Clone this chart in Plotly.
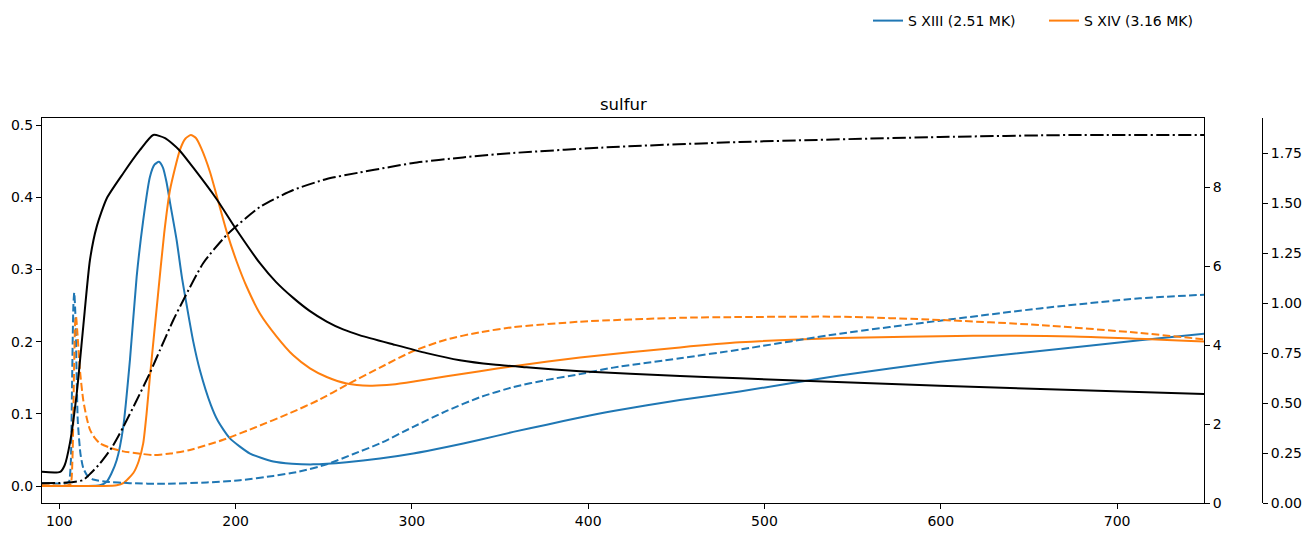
import plotly.graph_objects as go

# ---- data ----
xiii_x = [90, 100, 115, 123, 126.9, 129.5, 132.6, 136.3, 140.1, 143.9, 147.6, 151.4, 154, 156.5, 158.8,
          160.9, 163, 166.6, 169.5, 172.3, 176, 179.8, 186, 190, 196.8, 208.2, 221.4, 232, 244, 263, 281.9,
          300.8, 319.7, 338.6, 357.5, 376.5, 395.4, 414.2, 452, 486, 542.7, 599.5, 656.2, 712.9, 750]
xiii_y = [0.0, 0.0, 0.0, 0.001, 0.006, 0.017, 0.036, 0.082, 0.175, 0.29, 0.368, 0.428, 0.445, 0.449, 0.441,
          0.42, 0.39, 0.34, 0.29, 0.25, 0.20, 0.16, 0.112, 0.09, 0.066, 0.045, 0.034, 0.031, 0.030, 0.033, 0.038,
          0.045, 0.054, 0.064, 0.075, 0.085, 0.095, 0.104, 0.119, 0.131, 0.153, 0.172, 0.187, 0.202, 0.211]

xiv_x = [90, 100, 125, 132.6, 136.3, 142, 145, 147.6, 149.5, 151.4, 156, 159.5, 162.8, 168.5, 171.5, 174.6,
         177.5, 180.5, 185.5, 189.3, 195, 200.6, 206.3, 213.8, 223.3, 232.7, 242.2, 251.7, 263, 276, 289, 302,
         319.7, 338.6, 357.5, 395.4, 452.1, 486, 542.7, 618.4, 675.2, 750]
xiv_y = [0.0, 0.0, 0.0, 0.001, 0.004, 0.018, 0.034, 0.059, 0.10, 0.151, 0.265, 0.35, 0.41, 0.466, 0.481, 0.486,
         0.482, 0.468, 0.435, 0.402, 0.352, 0.311, 0.276, 0.239, 0.207, 0.181, 0.163, 0.151, 0.142, 0.139, 0.1405,
         0.145, 0.152, 0.159, 0.166, 0.178, 0.192, 0.199, 0.205, 0.208, 0.207, 0.200]

xiii_ne_x = [90, 104, 105.5, 106.5, 107.3, 108, 108.5, 109.1, 109.8, 110.5, 112, 113.6, 116, 119.3, 126.9,
             140, 160, 183.6, 202.5, 221.4, 236, 251.7, 266.5, 281.9, 300.8, 319.7, 338.6, 357.5, 376.5,
             395.4, 414.2, 452.1, 486, 542.7, 599.5, 656.2, 712.9, 750]
xiii_ne_y = [0.004, 0.004, 0.006, 0.03, 0.15, 0.25, 0.268, 0.24, 0.16, 0.09, 0.045, 0.025, 0.014, 0.009, 0.006,
             0.004, 0.003, 0.005, 0.008, 0.014, 0.020, 0.030, 0.044, 0.059, 0.082, 0.104, 0.123, 0.137,
             0.147, 0.155, 0.164, 0.177, 0.189, 0.211, 0.229, 0.246, 0.260, 0.265]

xiv_ne_x = [90, 105, 106.5, 107.5, 108.3, 109, 109.5, 110.2, 111.7, 113.6, 115.5, 117.4, 120, 123.1, 130,
            136.3, 145, 153.3, 163, 174.1, 193, 212, 230.9, 247, 263, 281.9, 300.8, 319.7, 338.6, 357.5,
            395.4, 452.1, 486, 542.7, 599.5, 656.2, 712.9, 750]
xiv_ne_y = [0.001, 0.001, 0.003, 0.04, 0.15, 0.225, 0.235, 0.215, 0.161, 0.119, 0.095, 0.078, 0.067, 0.059, 0.052,
            0.048, 0.045, 0.043, 0.045, 0.050, 0.064, 0.082, 0.101, 0.119, 0.140, 0.164, 0.187, 0.203, 0.213,
            0.220, 0.2276, 0.233, 0.234, 0.2345, 0.230, 0.223, 0.212, 0.203]

temp_x = [90, 100.5, 103, 106, 109.9, 113.6, 117.4, 121.2, 126.9, 136.3, 145.8, 153.3, 160, 168, 176, 189.3,
          200.6, 213.8, 223, 232.7, 242, 251.7, 261, 270.6, 289.5, 308.4, 327.3, 346.2, 365, 395.4, 452.1,
          486, 599.5, 750]
temp_y = [0.79, 0.79, 0.95, 1.51, 2.78, 4.47, 6.16, 7.0, 7.72, 8.36, 8.95, 9.33, 9.25, 8.95, 8.5, 7.7,
          6.92, 6.08, 5.6, 5.2, 4.87, 4.6, 4.4, 4.25, 4.02, 3.80, 3.62, 3.51, 3.44, 3.34, 3.22,
          3.16, 2.97, 2.76]

dens_x = [90, 100, 108, 113.6, 118, 123.1, 130, 136.3, 143.7, 151.4, 157.1, 164.7, 170.4, 181.7, 195,
          213.8, 232.7, 251.7, 270, 287.6, 300.8, 329, 357.5, 414.2, 486, 599.5, 675, 750]
dens_y = [0.0985, 0.1, 0.105, 0.115, 0.15, 0.198, 0.28, 0.38, 0.51, 0.65, 0.765, 0.915, 1.015, 1.20, 1.34,
          1.48, 1.565, 1.62, 1.652, 1.68, 1.70, 1.728, 1.75, 1.78, 1.805, 1.83, 1.84, 1.84]

x_ticks = [100, 200, 300, 400, 500, 600, 700]
y1_ticks = [0.0, 0.1, 0.2, 0.3, 0.4, 0.5]
y2_ticks = [0, 2, 4, 6, 8]
y3_ticks = [0.0, 0.25, 0.5, 0.75, 1.0, 1.25, 1.5, 1.75]

BLUE = "#1f77b4"
ORANGE = "#ff7f0e"
LW = 2
DASH = "7.7px,3.3px"
DASHDOT = "13.3px,3.3px,2.1px,3.3px"

W, H = 1312, 537
ML, MR, MT, MB = 42, 40, 118, 34
plot_w = W - ML - MR
D = (1204 - ML) / plot_w
P3 = (1262 - ML) / plot_w

fig = go.Figure()
spl = dict(shape="spline", smoothing=0.6)
fig.add_trace(go.Scatter(x=xiii_x, y=xiii_y, mode="lines", name="S XIII (2.51 MK)",
                         line=dict(color=BLUE, width=LW, **spl)))
fig.add_trace(go.Scatter(x=xiv_x, y=xiv_y, mode="lines", name="S XIV (3.16 MK)",
                         line=dict(color=ORANGE, width=LW, **spl)))
fig.add_trace(go.Scatter(x=xiii_ne_x, y=xiii_ne_y, mode="lines", showlegend=False,
                         line=dict(color=BLUE, width=LW, dash=DASH, **spl)))
fig.add_trace(go.Scatter(x=xiv_ne_x, y=xiv_ne_y, mode="lines", showlegend=False,
                         line=dict(color=ORANGE, width=LW, dash=DASH, **spl)))
fig.add_trace(go.Scatter(x=temp_x, y=temp_y, mode="lines", showlegend=False, yaxis="y2",
                         line=dict(color="black", width=LW, **spl)))
fig.add_trace(go.Scatter(x=dens_x, y=dens_y, mode="lines", showlegend=False, yaxis="y3",
                         line=dict(color="black", width=LW, dash=DASHDOT, **spl)))

axis_common = dict(showgrid=False, zeroline=False, showline=True, linecolor="black", linewidth=1.1,
                   ticks="outside", ticklen=5, tickwidth=1.1, tickcolor="black", automargin=False,
                   tickfont=dict(family="DejaVu Sans", size=14, color="black"))

fig.update_layout(
    width=W, height=H,
    margin=dict(l=ML, r=MR, t=MT, b=MB, pad=0, autoexpand=False),
    paper_bgcolor="white", plot_bgcolor="white",
    font=dict(family="DejaVu Sans", size=14, color="black"),
    xaxis=dict(domain=[0, D], range=[90.2, 749.3], tickvals=x_ticks, mirror=True, **axis_common),
    yaxis=dict(range=[-0.0235, 0.5097], tickvals=y1_ticks, tickformat=".1f", **axis_common),
    yaxis2=dict(overlaying="y", side="right", anchor="x", range=[0, 9.76], tickvals=y2_ticks,
                **axis_common),
    yaxis3=dict(overlaying="y", side="right", anchor="free", position=P3, range=[0, 1.925],
                tickvals=y3_ticks, tickformat=".2f", **axis_common),
    legend=dict(orientation="h", x=(868 - ML) / plot_w, xanchor="left", y=(503 - 21) / 385,
                yanchor="middle", font=dict(family="DejaVu Sans", size=14, color="black"),
                bgcolor="rgba(0,0,0,0)", entrywidth=131),
    annotations=[dict(text="sulfur", xref="paper", yref="paper", x=D / 2, y=(503 - 104) / 385,
                      xanchor="center", yanchor="middle", showarrow=False,
                      font=dict(family="DejaVu Sans", size=16.5, color="black"))],
)

fig.write_html("out.html")
